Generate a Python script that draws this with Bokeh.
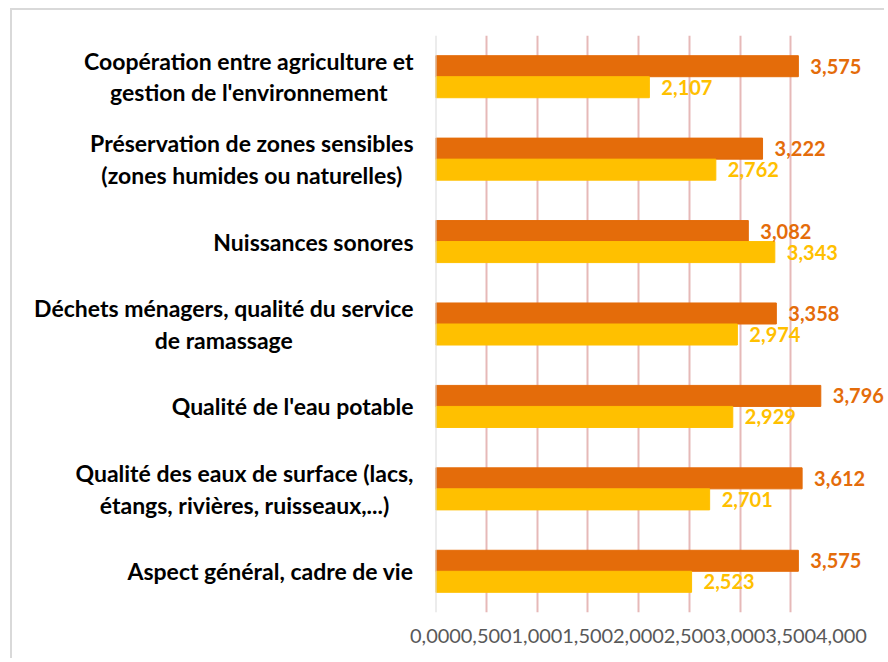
from bokeh.plotting import figure
from bokeh.models import (ColumnDataSource, FactorRange, FixedTicker,
                          CustomJSTickFormatter, Span)
from bokeh.transform import dodge
from bokeh.core.properties import value
from bokeh.embed import file_html
from bokeh.resources import INLINE

# ---- data (top to bottom as in the chart) ----
categories = [
    "Coopération entre agriculture et\ngestion de l'environnement",
    "Préservation de zones sensibles\n(zones humides ou naturelles)",
    "Nuissances sonores",
    "Déchets ménagers, qualité du service\nde ramassage",
    "Qualité de l'eau potable",
    "Qualité des eaux de surface (lacs,\nétangs, rivières, ruisseaux,...)",
    "Aspect général, cadre de vie",
]
series_orange = [3.575, 3.222, 3.082, 3.358, 3.796, 3.612, 3.575]
series_yellow = [2.107, 2.762, 3.343, 2.974, 2.929, 2.701, 2.523]
x_ticks = [0.0, 0.5, 1.0, 1.5, 2.0, 2.5, 3.0, 3.5, 4.0]

ORANGE = "#E46C0A"
YELLOW = "#FFC000"


def fmt(v):
    return f"{v:.3f}".replace(".", ",")


src = ColumnDataSource(dict(
    cat=categories,
    orange=series_orange,
    yellow=series_yellow,
    orange_txt=[fmt(v) for v in series_orange],
    yellow_txt=[fmt(v) for v in series_yellow],
))

p = figure(
    width=874, height=650,
    y_range=FactorRange(factors=list(reversed(categories)), range_padding=0),
    x_range=(0, 4),
    output_backend="svg", toolbar_location=None,
    min_border_left=423, min_border_right=45,
    min_border_top=25, min_border_bottom=48,
)
p.styles = {"margin-left": "10px", "margin-top": "8px",
            "border-left": "2px solid #d9d9d9", "border-top": "2px solid #d9d9d9"}
p.outline_line_color = None
p.background_fill_color = "white"
p.border_fill_color = "white"

bar_h = 0.255
off = bar_h / 2
p.hbar(y=dodge("cat", off, range=p.y_range), right="orange", left=0,
       height=bar_h, color=ORANGE, source=src)
p.hbar(y=dodge("cat", -off, range=p.y_range), right="yellow", left=0,
       height=bar_h, color=YELLOW, source=src)

# value labels
r1 = p.text(x="orange", y=dodge("cat", off, range=p.y_range), text="orange_txt",
            x_offset=12, text_align="left", text_baseline="middle",
            text_font=value("Lato"), text_font_style="bold",
            text_font_size="20px", text_color=ORANGE, source=src)
r2 = p.text(x="yellow", y=dodge("cat", -off, range=p.y_range), text="yellow_txt",
            x_offset=12, text_align="left", text_baseline="middle",
            text_font=value("Lato"), text_font_style="bold",
            text_font_size="20px", text_color=YELLOW, source=src)
r1.level = "overlay"
r2.level = "overlay"

# category labels
r3 = p.text(x=0, y="cat", text="cat", x_offset=-22,
            anchor="center_right", text_align="center", text_baseline="middle",
            text_line_height=1.12,
            text_font=value("Lato"), text_font_style="bold",
            text_font_size="23px", text_color="#000000", source=src)
r3.level = "overlay"

# axes
p.xaxis.ticker = FixedTicker(ticks=x_ticks)
p.xaxis.formatter = CustomJSTickFormatter(code="return tick.toFixed(3).replace('.', ',');")
p.xaxis.axis_line_color = None
p.xaxis.major_tick_line_color = None
p.xaxis.minor_tick_line_color = None
p.xaxis.major_label_standoff = 10
p.xaxis.major_label_text_font = "Lato"
p.xaxis.major_label_text_font_size = "20px"
p.xaxis.major_label_text_color = "#595959"

p.yaxis.visible = False

p.xgrid.grid_line_color = "#E6B9B8"
p.xgrid.grid_line_width = 2
p.ygrid.grid_line_color = None

p.add_layout(Span(location=0, dimension="height", line_color="#D9D9D9", line_width=2))

open("out.html", "w").write(file_html(p, INLINE))
